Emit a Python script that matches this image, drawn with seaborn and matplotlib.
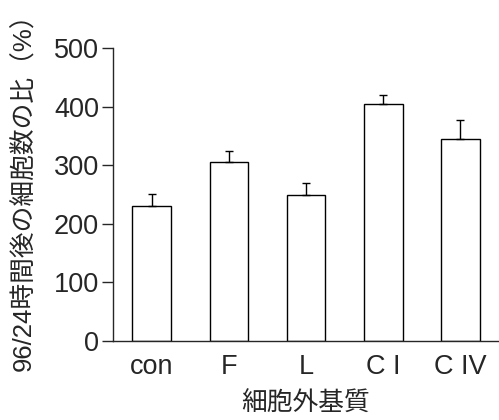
import matplotlib
matplotlib.use('Agg')
import matplotlib.pyplot as plt
import numpy as np
import pandas as pd
import seaborn as sns

# data
categories = ['con', 'F', 'L', 'C I', 'C IV']
ratio = [230, 306, 249, 404, 345]
err_up = [21, 18, 20, 15, 32]

sns.set_style('ticks')
plt.rcParams['font.family'] = ['Liberation Sans', 'Noto Sans CJK JP', 'DejaVu Sans']

df = pd.DataFrame({'matrix': categories, 'ratio': ratio})

fig = plt.figure(figsize=(4.99, 4.2), dpi=100)
ax = fig.add_axes([0.2265, 0.188, 0.7735, 0.698])

sns.barplot(x='matrix', y='ratio', data=df, color='white', edgecolor='black',
            linewidth=1.0, width=0.5, errorbar=None, ax=ax)

# upward-only error bars
ax.errorbar(np.arange(len(categories)), ratio,
            yerr=[np.zeros(len(err_up)), err_up],
            fmt='none', ecolor='black', elinewidth=1.0, capsize=3, capthick=1.0)

ax.set_xlim(-0.5, 4.5)
ax.set_ylim(0, 500)
ax.set_yticks([0, 100, 200, 300, 400, 500])
ax.tick_params(axis='y', labelsize=19.5, length=8, width=1.0, pad=2)
ax.tick_params(axis='x', labelsize=19.5, length=0, pad=9)
sns.despine(ax=ax, top=True, right=True)
ax.spines['left'].set_linewidth(1.0)
ax.spines['bottom'].set_linewidth(1.0)

ax.set_xlabel('細胞外基質', fontsize=18.5, labelpad=9)
ax.set_ylabel('96/24時間後の細胞数の比（%）', fontsize=18.5)
ax.yaxis.set_label_coords(-0.2, 0.53)

fig.savefig('out.png', dpi=100)
